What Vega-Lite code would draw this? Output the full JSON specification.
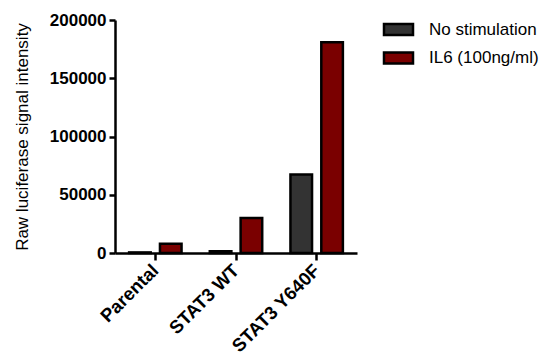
{
  "$schema": "https://vega.github.io/schema/vega-lite/v6.json",
  "autosize": {"type": "none"},
  "padding": {"left": 115, "top": 20, "right": 190, "bottom": 102},
  "width": 242,
  "height": 233,
  "background": "white",
  "config": {
    "view": {"stroke": null},
    "font": "Liberation Sans"
  },
  "data": {
    "values": [
      {"cell": "Parental", "condition": "No stimulation", "value": 500},
      {"cell": "Parental", "condition": "IL6 (100ng/ml)", "value": 8000},
      {"cell": "STAT3 WT", "condition": "No stimulation", "value": 1500},
      {"cell": "STAT3 WT", "condition": "IL6 (100ng/ml)", "value": 30000},
      {"cell": "STAT3 Y640F", "condition": "No stimulation", "value": 67300},
      {"cell": "STAT3 Y640F", "condition": "IL6 (100ng/ml)", "value": 181000}
    ]
  },
  "mark": {"type": "bar", "stroke": "black", "strokeWidth": 2.5},
  "encoding": {
    "x": {
      "field": "cell",
      "type": "nominal",
      "sort": ["Parental", "STAT3 WT", "STAT3 Y640F"],
      "scale": {"paddingInner": 0.35, "paddingOuter": 0.175},
      "axis": {
        "title": null,
        "labelAngle": -45,
        "labelFontSize": 18.5,
        "labelFontWeight": "bold",
        "labelColor": "black",
        "labelAlign": "right",
        "labelBaseline": "middle",
        "labelPadding": 7,
        "domainColor": "black",
        "domainWidth": 2.5,
        "tickColor": "black",
        "tickWidth": 2.5,
        "tickSize": 7,
        "grid": false
      }
    },
    "xOffset": {
      "field": "condition",
      "type": "nominal",
      "sort": ["No stimulation", "IL6 (100ng/ml)"],
      "scale": {"paddingInner": 0.3, "paddingOuter": 0}
    },
    "y": {
      "field": "value",
      "type": "quantitative",
      "scale": {"domain": [0, 200000], "nice": false},
      "axis": {
        "title": "Raw luciferase signal intensity",
        "titleFontSize": 17,
        "titleFontWeight": "normal",
        "titleColor": "black",
        "titlePadding": 18,
        "values": [0, 50000, 100000, 150000, 200000],
        "format": "d",
        "labelFontSize": 17,
        "labelFontWeight": "bold",
        "labelColor": "black",
        "labelPadding": 3,
        "domainColor": "black",
        "domainWidth": 2.5,
        "tickColor": "black",
        "tickWidth": 2.5,
        "tickSize": 6,
        "grid": false
      }
    },
    "fill": {
      "field": "condition",
      "type": "nominal",
      "sort": ["No stimulation", "IL6 (100ng/ml)"],
      "scale": {"domain": ["No stimulation", "IL6 (100ng/ml)"], "range": ["#333333", "#7a0000"]},
      "legend": {
        "title": null,
        "orient": "none",
        "legendX": 272,
        "legendY": -2,
        "padding": 0,
        "symbolType": "M-1.45,-0.55H1.45V0.55H-1.45Z",
        "symbolSize": 400,
        "symbolStrokeColor": "black",
        "symbolStrokeWidth": 2.5,
        "symbolOpacity": 1,
        "labelFontSize": 17,
        "labelColor": "black",
        "labelOffset": 19,
        "rowPadding": 6.5,
        "labelLimit": 300
      }
    }
  }
}
